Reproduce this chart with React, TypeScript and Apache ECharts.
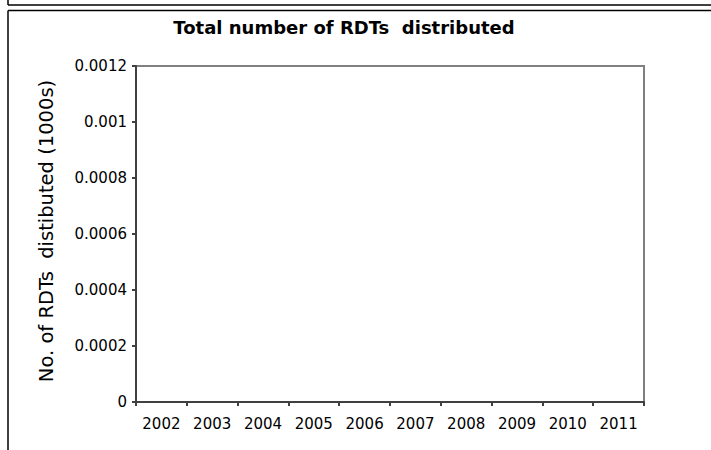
import React, { useEffect, useRef } from "react";
import * as echarts from "echarts";

const years = ["2002", "2003", "2004", "2005", "2006", "2007", "2008", "2009", "2010", "2011"];
const rdtsDistributed = [0, 0, 0, 0, 0, 0, 0, 0, 0, 0];
const yTickLabels = ["0", "0.0002", "0.0004", "0.0006", "0.0008", "0.001", "0.0012"];
const yMin = 0;
const yMax = 0.0012;
const yStep = 0.0002;
const titleText = "Total number of RDTs  distributed";
const yAxisTitle = "No. of RDTs  distibuted (1000s)";

export default function App() {
  const ref = useRef<HTMLDivElement>(null);
  useEffect(() => {
    if (!ref.current) return;
    const chart = echarts.init(ref.current, null, { renderer: "svg" });
    const font = "'DejaVu Sans', sans-serif";
    chart.setOption({
      animation: false,
      backgroundColor: "#ffffff",
      title: {
        text: titleText,
        left: 339,
        textAlign: "center",
        top: 13,
        textStyle: { fontFamily: font, fontWeight: "bold", fontSize: 18, color: "#000" },
      },
      grid: {
        left: 136,
        top: 66,
        width: 508,
        height: 336,
        show: true,
        borderColor: "#808080",
        borderWidth: 2,
        backgroundColor: "transparent",
      },
      xAxis: {
        type: "category",
        data: years,
        boundaryGap: true,
        axisLine: { show: true, lineStyle: { color: "#404040", width: 2 } },
        axisTick: { show: true, inside: false, length: 4, alignWithLabel: false, lineStyle: { color: "#404040", width: 2 } },
        axisLabel: { margin: 14, fontFamily: font, fontSize: 15, color: "#000" },
        splitLine: { show: false },
      },
      yAxis: {
        type: "value",
        min: yMin,
        max: yMax,
        interval: yStep,
        name: yAxisTitle,
        nameLocation: "middle",
        nameRotate: 90,
        nameGap: 80,
        nameTextStyle: { fontFamily: font, fontSize: 19.5, color: "#000", padding: [0, 0, 0, 6] },
        axisLine: { show: true, lineStyle: { color: "#404040", width: 2 } },
        axisTick: { show: true, inside: false, length: 4, lineStyle: { color: "#404040", width: 2 } },
        axisLabel: {
          margin: 9,
          fontFamily: font,
          fontSize: 15,
          color: "#000",
          formatter: (_v: number, i: number) => yTickLabels[i] ?? "",
        },
        splitLine: { show: false },
      },
      graphic: [
        { type: "line", shape: { x1: 8, y1: 5, x2: 711, y2: 5 }, style: { stroke: "#000", lineWidth: 1.5 } },
        { type: "line", shape: { x1: 8, y1: 0, x2: 8, y2: 5 }, style: { stroke: "#000", lineWidth: 1.5 } },
        { type: "line", shape: { x1: 8, y1: 10.5, x2: 711, y2: 10.5 }, style: { stroke: "#000", lineWidth: 1.5 } },
        { type: "line", shape: { x1: 8, y1: 10.5, x2: 8, y2: 450 }, style: { stroke: "#000", lineWidth: 1.5 } },
      ],
      series: [
        {
          type: "bar",
          data: rdtsDistributed,
          itemStyle: { color: "#000080" },
        },
      ],
    });
    return () => chart.dispose();
  }, []);
  return <div ref={ref} style={{ position: "absolute", left: 0, top: 0, width: 711, height: 450 }} />;
}
